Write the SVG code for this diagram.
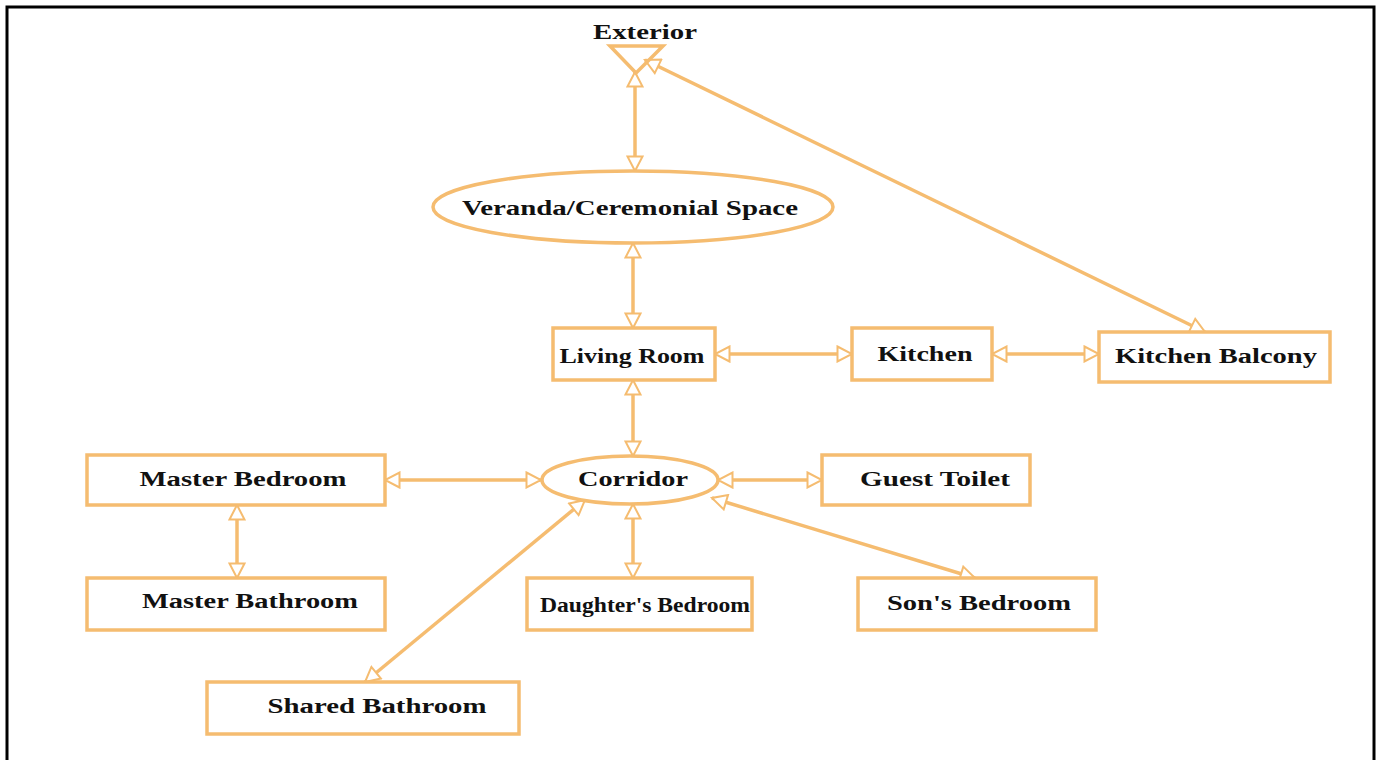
<svg xmlns="http://www.w3.org/2000/svg" width="1381" height="760" viewBox="0 0 1381 760">
<style>
.box{fill:#fff;stroke:#f5bc70;stroke-width:3.5}
.lbl{font-family:"Liberation Serif","Times New Roman",serif;font-weight:bold;font-size:20.5px;fill:#111;text-anchor:middle}
.con{stroke:#f5bc70;stroke-width:3.5;fill:none;marker-start:url(#ah);marker-end:url(#ah)}
</style>
<defs>
<marker id="ah" markerUnits="userSpaceOnUse" viewBox="0 0 18 18" markerWidth="18" markerHeight="18" refX="16" refY="9" orient="auto-start-reverse">
<path d="M1.5,1.5 L16,9 L1.5,16.5 Z" fill="#fff" stroke="#f5bc70" stroke-width="2"/>
</marker>
</defs>
<rect x="7" y="7" width="1367" height="800" fill="#fff" stroke="#000" stroke-width="3"/>
<g id="connectors">
<line class="con" x1="635" y1="72" x2="635" y2="171"/>
<line class="con" x1="633" y1="243" x2="633" y2="328"/>
<line class="con" x1="715" y1="354" x2="852" y2="354"/>
<line class="con" x1="992" y1="354" x2="1099" y2="354"/>
<line class="con" x1="1205" y1="332" x2="645" y2="60"/>
<line class="con" x1="633" y1="380" x2="633" y2="456"/>
<line class="con" x1="385" y1="480" x2="541" y2="480"/>
<line class="con" x1="718" y1="480" x2="822" y2="480"/>
<line class="con" x1="237" y1="505" x2="237" y2="578"/>
<line class="con" x1="633" y1="504" x2="633" y2="578"/>
<line class="con" x1="712" y1="498" x2="975" y2="578"/>
<line class="con" x1="585" y1="500" x2="365" y2="682"/>
</g>
<g id="exterior">
<polygon points="610,46 663,46 636,73" fill="none" stroke="#f5bc70" stroke-width="3.5"/>
<text class="lbl" x="645" y="39" textLength="104" lengthAdjust="spacingAndGlyphs">Exterior</text>
</g>
<g id="veranda">
<ellipse class="box" cx="633" cy="207" rx="200" ry="36"/>
<text class="lbl" x="630" y="215" font-size="21.5" textLength="336" lengthAdjust="spacingAndGlyphs">Veranda/Ceremonial Space</text>
</g>
<g id="living">
<rect class="box" x="553" y="328" width="162" height="52"/>
<text class="lbl" x="632" y="363" textLength="145" lengthAdjust="spacingAndGlyphs">Living Room</text>
</g>
<g id="kitchen">
<rect class="box" x="852" y="328" width="140" height="52"/>
<text class="lbl" x="925" y="361" textLength="95" lengthAdjust="spacingAndGlyphs">Kitchen</text>
</g>
<g id="kitchen-balcony">
<rect class="box" x="1099" y="332" width="231" height="50"/>
<text class="lbl" x="1216" y="363" textLength="202" lengthAdjust="spacingAndGlyphs">Kitchen Balcony</text>
</g>
<g id="corridor">
<ellipse class="box" cx="630" cy="480" rx="88" ry="24"/>
<text class="lbl" x="633" y="486" textLength="110" lengthAdjust="spacingAndGlyphs">Corridor</text>
</g>
<g id="master-bedroom">
<rect class="box" x="87" y="455" width="298" height="50"/>
<text class="lbl" x="243" y="486" textLength="207" lengthAdjust="spacingAndGlyphs">Master Bedroom</text>
</g>
<g id="master-bathroom">
<rect class="box" x="87" y="578" width="298" height="52"/>
<text class="lbl" x="250" y="608" textLength="216" lengthAdjust="spacingAndGlyphs">Master Bathroom</text>
</g>
<g id="guest-toilet">
<rect class="box" x="822" y="455" width="208" height="50"/>
<text class="lbl" x="935" y="486" textLength="150" lengthAdjust="spacingAndGlyphs">Guest Toilet</text>
</g>
<g id="daughters-bedroom">
<rect class="box" x="527" y="578" width="225" height="52"/>
<text class="lbl" x="645" y="612" font-size="17" textLength="210" lengthAdjust="spacingAndGlyphs">Daughter's Bedroom</text>
</g>
<g id="sons-bedroom">
<rect class="box" x="858" y="578" width="238" height="52"/>
<text class="lbl" x="979" y="610" textLength="184" lengthAdjust="spacingAndGlyphs">Son's Bedroom</text>
</g>
<g id="shared-bathroom">
<rect class="box" x="207" y="682" width="312" height="52"/>
<text class="lbl" x="377" y="713" textLength="219" lengthAdjust="spacingAndGlyphs">Shared Bathroom</text>
</g>
</svg>
